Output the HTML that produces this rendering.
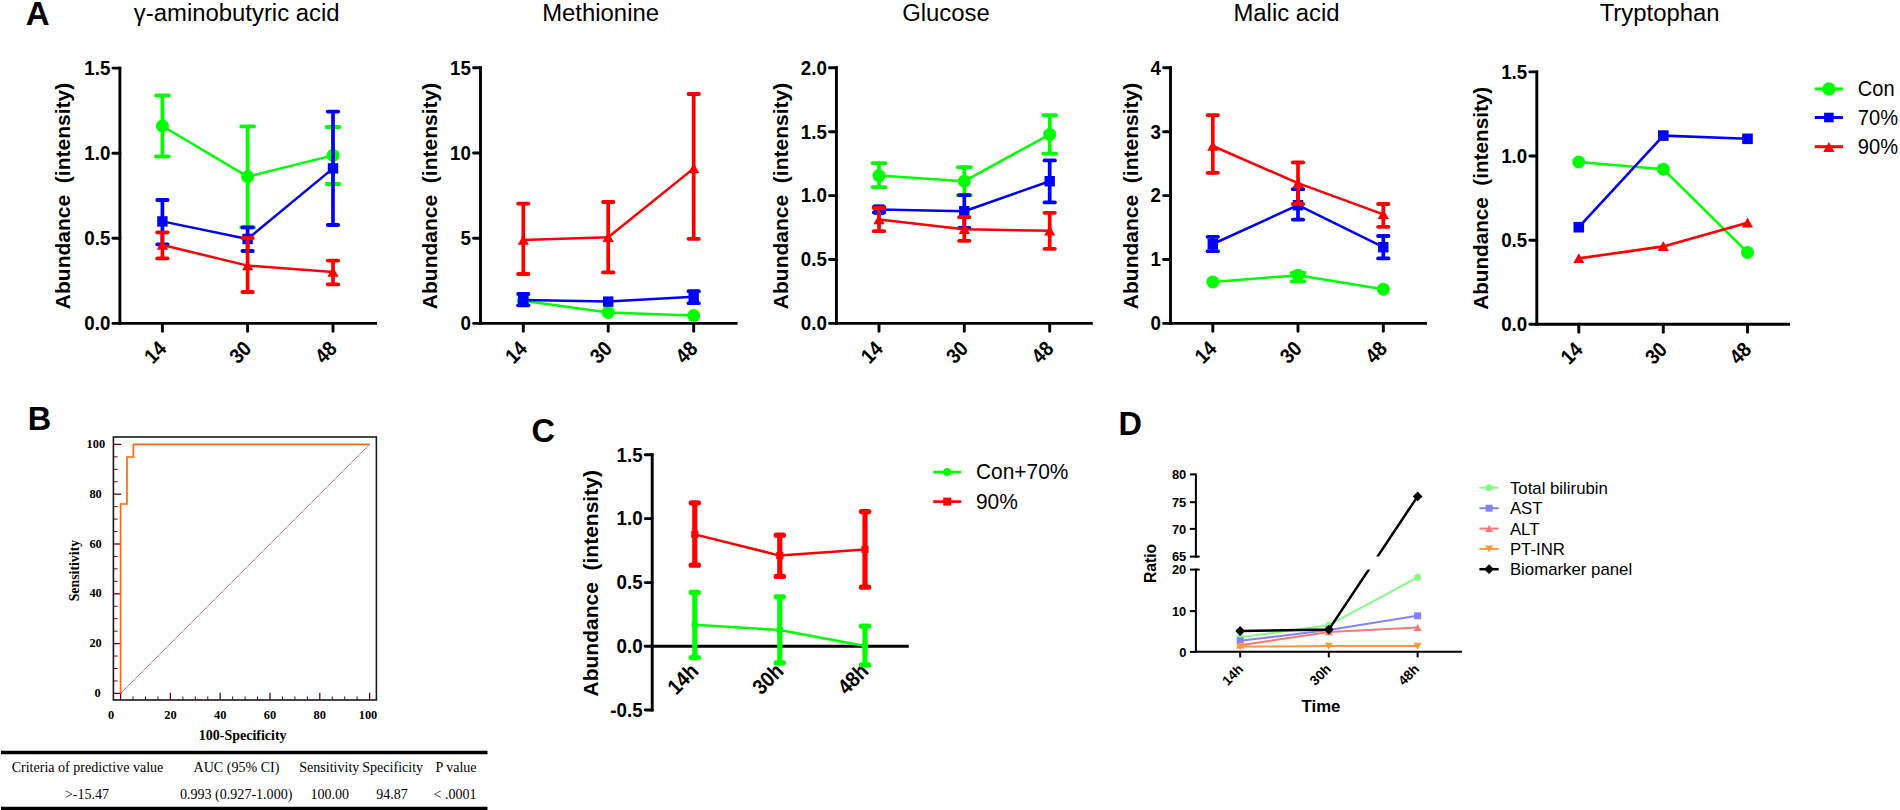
<!DOCTYPE html>
<html lang="en">
<head>
<meta charset="utf-8">
<title>Figure</title>
<style>
html,body{margin:0;padding:0;background:#fff;}
body{width:1900px;height:810px;overflow:hidden;}
svg{display:block;}
text.s{font-family:'Liberation Sans', sans-serif;fill:#000;}
text.t{font-family:'Liberation Serif', serif;fill:#000;}
</style>
</head>
<body>
<svg width="1900" height="810" viewBox="0 0 1900 810">
<rect x="0" y="0" width="1900" height="810" fill="#ffffff"/>
<text class="s" x="25.8" y="25.4" font-size="33" font-weight="bold" text-anchor="start">A</text>
<text class="s" x="27.8" y="430" font-size="32.5" font-weight="bold" text-anchor="start">B</text>
<text class="s" x="531.5" y="442" font-size="32.5" font-weight="bold" text-anchor="start">C</text>
<text class="s" x="1118.5" y="435.2" font-size="32.5" font-weight="bold" text-anchor="start">D</text>
<line x1="119.9" y1="66.65" x2="119.9" y2="324.85" stroke="#000" stroke-width="2.9" stroke-linecap="butt"/>
<line x1="118.45" y1="323.4" x2="377" y2="323.4" stroke="#000" stroke-width="2.9" stroke-linecap="butt"/>
<line x1="112.95" y1="68.1" x2="119.9" y2="68.1" stroke="#000" stroke-width="2.9" stroke-linecap="round"/>
<text class="s" transform="translate(110.3 74.9) scale(0.9 1)" font-size="20.8" font-weight="bold" text-anchor="end">1.5</text>
<line x1="112.95" y1="153.2" x2="119.9" y2="153.2" stroke="#000" stroke-width="2.9" stroke-linecap="round"/>
<text class="s" transform="translate(110.3 160) scale(0.9 1)" font-size="20.8" font-weight="bold" text-anchor="end">1.0</text>
<line x1="112.95" y1="238.3" x2="119.9" y2="238.3" stroke="#000" stroke-width="2.9" stroke-linecap="round"/>
<text class="s" transform="translate(110.3 245.1) scale(0.9 1)" font-size="20.8" font-weight="bold" text-anchor="end">0.5</text>
<line x1="112.95" y1="323.4" x2="119.9" y2="323.4" stroke="#000" stroke-width="2.9" stroke-linecap="round"/>
<text class="s" transform="translate(110.3 330.2) scale(0.9 1)" font-size="20.8" font-weight="bold" text-anchor="end">0.0</text>
<line x1="162.4" y1="323.4" x2="162.4" y2="331.35" stroke="#000" stroke-width="2.9" stroke-linecap="round"/>
<text class="s" transform="translate(167.5 350) rotate(-45) scale(0.9 1)" font-size="20.8" font-weight="bold" text-anchor="end">14</text>
<line x1="247.6" y1="323.4" x2="247.6" y2="331.35" stroke="#000" stroke-width="2.9" stroke-linecap="round"/>
<text class="s" transform="translate(252.7 350) rotate(-45) scale(0.9 1)" font-size="20.8" font-weight="bold" text-anchor="end">30</text>
<line x1="333" y1="323.4" x2="333" y2="331.35" stroke="#000" stroke-width="2.9" stroke-linecap="round"/>
<text class="s" transform="translate(338.1 350) rotate(-45) scale(0.9 1)" font-size="20.8" font-weight="bold" text-anchor="end">48</text>
<text class="s" transform="translate(70.2 196) rotate(-90) scale(1.0 1)" font-size="21" font-weight="bold" text-anchor="middle">Abundance  (intensity)</text>
<text class="s" transform="translate(236.7 20.7) scale(0.975 1)" font-size="24.5" font-weight="normal" text-anchor="middle">γ-aminobutyric acid</text>
<line x1="162.4" y1="95.4" x2="162.4" y2="156.4" stroke="#00ff00" stroke-width="3.7" stroke-linecap="butt"/>
<line x1="156" y1="95.4" x2="168.8" y2="95.4" stroke="#00ff00" stroke-width="3.8" stroke-linecap="round"/>
<line x1="156" y1="156.4" x2="168.8" y2="156.4" stroke="#00ff00" stroke-width="3.8" stroke-linecap="round"/>
<line x1="247.6" y1="126.4" x2="247.6" y2="227.4" stroke="#00ff00" stroke-width="3.7" stroke-linecap="butt"/>
<line x1="241.2" y1="126.4" x2="254" y2="126.4" stroke="#00ff00" stroke-width="3.8" stroke-linecap="round"/>
<line x1="241.2" y1="227.4" x2="254" y2="227.4" stroke="#00ff00" stroke-width="3.8" stroke-linecap="round"/>
<line x1="333" y1="127" x2="333" y2="184" stroke="#00ff00" stroke-width="3.7" stroke-linecap="butt"/>
<line x1="326.6" y1="127" x2="339.4" y2="127" stroke="#00ff00" stroke-width="3.8" stroke-linecap="round"/>
<line x1="326.6" y1="184" x2="339.4" y2="184" stroke="#00ff00" stroke-width="3.8" stroke-linecap="round"/>
<path d="M162.4 126L247.6 176.6L333 155.4" fill="none" stroke="#00ff00" stroke-width="2.5" stroke-linejoin="round"/>
<circle cx="162.4" cy="126" r="6.5" fill="#00ff00"/>
<circle cx="247.6" cy="176.6" r="6.5" fill="#00ff00"/>
<circle cx="333" cy="155.4" r="6.5" fill="#00ff00"/>
<line x1="162.4" y1="200" x2="162.4" y2="244.4" stroke="#0000ff" stroke-width="3.7" stroke-linecap="butt"/>
<line x1="157.2" y1="200" x2="167.6" y2="200" stroke="#0000ff" stroke-width="3.8" stroke-linecap="round"/>
<line x1="157.2" y1="244.4" x2="167.6" y2="244.4" stroke="#0000ff" stroke-width="3.8" stroke-linecap="round"/>
<line x1="247.6" y1="227.4" x2="247.6" y2="251" stroke="#0000ff" stroke-width="3.7" stroke-linecap="butt"/>
<line x1="242.4" y1="227.4" x2="252.8" y2="227.4" stroke="#0000ff" stroke-width="3.8" stroke-linecap="round"/>
<line x1="242.4" y1="251" x2="252.8" y2="251" stroke="#0000ff" stroke-width="3.8" stroke-linecap="round"/>
<line x1="333" y1="111.6" x2="333" y2="225" stroke="#0000ff" stroke-width="3.7" stroke-linecap="butt"/>
<line x1="327.8" y1="111.6" x2="338.2" y2="111.6" stroke="#0000ff" stroke-width="3.8" stroke-linecap="round"/>
<line x1="327.8" y1="225" x2="338.2" y2="225" stroke="#0000ff" stroke-width="3.8" stroke-linecap="round"/>
<path d="M162.4 221.4L247.6 239L333 168.4" fill="none" stroke="#0000ff" stroke-width="2.5" stroke-linejoin="round"/>
<rect x="157.2" y="216.2" width="10.4" height="10.4" fill="#0000ff"/>
<rect x="242.4" y="233.8" width="10.4" height="10.4" fill="#0000ff"/>
<rect x="327.8" y="163.2" width="10.4" height="10.4" fill="#0000ff"/>
<line x1="162.4" y1="232.4" x2="162.4" y2="258.4" stroke="#ff0000" stroke-width="3.7" stroke-linecap="butt"/>
<line x1="157.2" y1="232.4" x2="167.6" y2="232.4" stroke="#ff0000" stroke-width="3.8" stroke-linecap="round"/>
<line x1="157.2" y1="258.4" x2="167.6" y2="258.4" stroke="#ff0000" stroke-width="3.8" stroke-linecap="round"/>
<line x1="247.6" y1="238" x2="247.6" y2="292" stroke="#ff0000" stroke-width="3.7" stroke-linecap="butt"/>
<line x1="242.4" y1="238" x2="252.8" y2="238" stroke="#ff0000" stroke-width="3.8" stroke-linecap="round"/>
<line x1="242.4" y1="292" x2="252.8" y2="292" stroke="#ff0000" stroke-width="3.8" stroke-linecap="round"/>
<line x1="333" y1="260.6" x2="333" y2="284.4" stroke="#ff0000" stroke-width="3.7" stroke-linecap="butt"/>
<line x1="327.8" y1="260.6" x2="338.2" y2="260.6" stroke="#ff0000" stroke-width="3.8" stroke-linecap="round"/>
<line x1="327.8" y1="284.4" x2="338.2" y2="284.4" stroke="#ff0000" stroke-width="3.8" stroke-linecap="round"/>
<path d="M162.4 245L247.6 265.6L333 272" fill="none" stroke="#ff0000" stroke-width="2.5" stroke-linejoin="round"/>
<path d="M162.4 239.8L168.02 249.68L156.78 249.68Z" fill="#ff0000"/>
<path d="M247.6 260.4L253.22 270.28L241.98 270.28Z" fill="#ff0000"/>
<path d="M333 266.8L338.62 276.68L327.38 276.68Z" fill="#ff0000"/>
<line x1="480.5" y1="66.35" x2="480.5" y2="324.85" stroke="#000" stroke-width="2.9" stroke-linecap="butt"/>
<line x1="479.05" y1="323.4" x2="737.6" y2="323.4" stroke="#000" stroke-width="2.9" stroke-linecap="butt"/>
<line x1="473.55" y1="67.8" x2="480.5" y2="67.8" stroke="#000" stroke-width="2.9" stroke-linecap="round"/>
<text class="s" transform="translate(470.9 74.6) scale(0.9 1)" font-size="20.8" font-weight="bold" text-anchor="end">15</text>
<line x1="473.55" y1="153" x2="480.5" y2="153" stroke="#000" stroke-width="2.9" stroke-linecap="round"/>
<text class="s" transform="translate(470.9 159.8) scale(0.9 1)" font-size="20.8" font-weight="bold" text-anchor="end">10</text>
<line x1="473.55" y1="238.2" x2="480.5" y2="238.2" stroke="#000" stroke-width="2.9" stroke-linecap="round"/>
<text class="s" transform="translate(470.9 245) scale(0.9 1)" font-size="20.8" font-weight="bold" text-anchor="end">5</text>
<line x1="473.55" y1="323.4" x2="480.5" y2="323.4" stroke="#000" stroke-width="2.9" stroke-linecap="round"/>
<text class="s" transform="translate(470.9 330.2) scale(0.9 1)" font-size="20.8" font-weight="bold" text-anchor="end">0</text>
<line x1="523.3" y1="323.4" x2="523.3" y2="331.35" stroke="#000" stroke-width="2.9" stroke-linecap="round"/>
<text class="s" transform="translate(528.4 350) rotate(-45) scale(0.9 1)" font-size="20.8" font-weight="bold" text-anchor="end">14</text>
<line x1="608.2" y1="323.4" x2="608.2" y2="331.35" stroke="#000" stroke-width="2.9" stroke-linecap="round"/>
<text class="s" transform="translate(613.3 350) rotate(-45) scale(0.9 1)" font-size="20.8" font-weight="bold" text-anchor="end">30</text>
<line x1="693.7" y1="323.4" x2="693.7" y2="331.35" stroke="#000" stroke-width="2.9" stroke-linecap="round"/>
<text class="s" transform="translate(698.8 350) rotate(-45) scale(0.9 1)" font-size="20.8" font-weight="bold" text-anchor="end">48</text>
<text class="s" transform="translate(437.1 196) rotate(-90) scale(1.0 1)" font-size="21" font-weight="bold" text-anchor="middle">Abundance  (intensity)</text>
<text class="s" transform="translate(600.6 20.7) scale(0.975 1)" font-size="24.5" font-weight="normal" text-anchor="middle">Methionine</text>
<path d="M523.3 300.8L608.2 312.4L693.7 315.6" fill="none" stroke="#00ff00" stroke-width="2.5" stroke-linejoin="round"/>
<circle cx="523.3" cy="300.8" r="6.5" fill="#00ff00"/>
<circle cx="608.2" cy="312.4" r="6.5" fill="#00ff00"/>
<circle cx="693.7" cy="315.6" r="6.5" fill="#00ff00"/>
<line x1="523.3" y1="294" x2="523.3" y2="305.3" stroke="#0000ff" stroke-width="3.7" stroke-linecap="butt"/>
<line x1="518.1" y1="294" x2="528.5" y2="294" stroke="#0000ff" stroke-width="3.8" stroke-linecap="round"/>
<line x1="518.1" y1="305.3" x2="528.5" y2="305.3" stroke="#0000ff" stroke-width="3.8" stroke-linecap="round"/>
<line x1="693.7" y1="291.2" x2="693.7" y2="303.2" stroke="#0000ff" stroke-width="3.7" stroke-linecap="butt"/>
<line x1="688.5" y1="291.2" x2="698.9" y2="291.2" stroke="#0000ff" stroke-width="3.8" stroke-linecap="round"/>
<line x1="688.5" y1="303.2" x2="698.9" y2="303.2" stroke="#0000ff" stroke-width="3.8" stroke-linecap="round"/>
<path d="M523.3 300L608.2 301.6L693.7 296.8" fill="none" stroke="#0000ff" stroke-width="2.5" stroke-linejoin="round"/>
<rect x="518.1" y="294.8" width="10.4" height="10.4" fill="#0000ff"/>
<rect x="603" y="296.4" width="10.4" height="10.4" fill="#0000ff"/>
<rect x="688.5" y="291.6" width="10.4" height="10.4" fill="#0000ff"/>
<line x1="523.3" y1="203.6" x2="523.3" y2="274" stroke="#ff0000" stroke-width="3.7" stroke-linecap="butt"/>
<line x1="518.1" y1="203.6" x2="528.5" y2="203.6" stroke="#ff0000" stroke-width="3.8" stroke-linecap="round"/>
<line x1="518.1" y1="274" x2="528.5" y2="274" stroke="#ff0000" stroke-width="3.8" stroke-linecap="round"/>
<line x1="608.2" y1="202" x2="608.2" y2="272.4" stroke="#ff0000" stroke-width="3.7" stroke-linecap="butt"/>
<line x1="603" y1="202" x2="613.4" y2="202" stroke="#ff0000" stroke-width="3.8" stroke-linecap="round"/>
<line x1="603" y1="272.4" x2="613.4" y2="272.4" stroke="#ff0000" stroke-width="3.8" stroke-linecap="round"/>
<line x1="693.7" y1="94" x2="693.7" y2="238.8" stroke="#ff0000" stroke-width="3.7" stroke-linecap="butt"/>
<line x1="688.5" y1="94" x2="698.9" y2="94" stroke="#ff0000" stroke-width="3.8" stroke-linecap="round"/>
<line x1="688.5" y1="238.8" x2="698.9" y2="238.8" stroke="#ff0000" stroke-width="3.8" stroke-linecap="round"/>
<path d="M523.3 240L608.2 237.2L693.7 168.4" fill="none" stroke="#ff0000" stroke-width="2.5" stroke-linejoin="round"/>
<path d="M523.3 234.8L528.92 244.68L517.68 244.68Z" fill="#ff0000"/>
<path d="M608.2 232L613.82 241.88L602.58 241.88Z" fill="#ff0000"/>
<path d="M693.7 163.2L699.32 173.08L688.08 173.08Z" fill="#ff0000"/>
<line x1="836.4" y1="66.35" x2="836.4" y2="324.85" stroke="#000" stroke-width="2.9" stroke-linecap="butt"/>
<line x1="834.95" y1="323.4" x2="1092.8" y2="323.4" stroke="#000" stroke-width="2.9" stroke-linecap="butt"/>
<line x1="829.45" y1="67.8" x2="836.4" y2="67.8" stroke="#000" stroke-width="2.9" stroke-linecap="round"/>
<text class="s" transform="translate(826.8 74.6) scale(0.9 1)" font-size="20.8" font-weight="bold" text-anchor="end">2.0</text>
<line x1="829.45" y1="131.7" x2="836.4" y2="131.7" stroke="#000" stroke-width="2.9" stroke-linecap="round"/>
<text class="s" transform="translate(826.8 138.5) scale(0.9 1)" font-size="20.8" font-weight="bold" text-anchor="end">1.5</text>
<line x1="829.45" y1="195.6" x2="836.4" y2="195.6" stroke="#000" stroke-width="2.9" stroke-linecap="round"/>
<text class="s" transform="translate(826.8 202.4) scale(0.9 1)" font-size="20.8" font-weight="bold" text-anchor="end">1.0</text>
<line x1="829.45" y1="259.5" x2="836.4" y2="259.5" stroke="#000" stroke-width="2.9" stroke-linecap="round"/>
<text class="s" transform="translate(826.8 266.3) scale(0.9 1)" font-size="20.8" font-weight="bold" text-anchor="end">0.5</text>
<line x1="829.45" y1="323.4" x2="836.4" y2="323.4" stroke="#000" stroke-width="2.9" stroke-linecap="round"/>
<text class="s" transform="translate(826.8 330.2) scale(0.9 1)" font-size="20.8" font-weight="bold" text-anchor="end">0.0</text>
<line x1="879" y1="323.4" x2="879" y2="331.35" stroke="#000" stroke-width="2.9" stroke-linecap="round"/>
<text class="s" transform="translate(884.1 350) rotate(-45) scale(0.9 1)" font-size="20.8" font-weight="bold" text-anchor="end">14</text>
<line x1="964.3" y1="323.4" x2="964.3" y2="331.35" stroke="#000" stroke-width="2.9" stroke-linecap="round"/>
<text class="s" transform="translate(969.4 350) rotate(-45) scale(0.9 1)" font-size="20.8" font-weight="bold" text-anchor="end">30</text>
<line x1="1049.7" y1="323.4" x2="1049.7" y2="331.35" stroke="#000" stroke-width="2.9" stroke-linecap="round"/>
<text class="s" transform="translate(1054.8 350) rotate(-45) scale(0.9 1)" font-size="20.8" font-weight="bold" text-anchor="end">48</text>
<text class="s" transform="translate(788.2 196) rotate(-90) scale(1.0 1)" font-size="21" font-weight="bold" text-anchor="middle">Abundance  (intensity)</text>
<text class="s" transform="translate(946 20.7) scale(0.975 1)" font-size="24.5" font-weight="normal" text-anchor="middle">Glucose</text>
<line x1="879" y1="163.2" x2="879" y2="187.2" stroke="#00ff00" stroke-width="3.7" stroke-linecap="butt"/>
<line x1="872.6" y1="163.2" x2="885.4" y2="163.2" stroke="#00ff00" stroke-width="3.8" stroke-linecap="round"/>
<line x1="872.6" y1="187.2" x2="885.4" y2="187.2" stroke="#00ff00" stroke-width="3.8" stroke-linecap="round"/>
<line x1="964.3" y1="167.2" x2="964.3" y2="195.2" stroke="#00ff00" stroke-width="3.7" stroke-linecap="butt"/>
<line x1="957.9" y1="167.2" x2="970.7" y2="167.2" stroke="#00ff00" stroke-width="3.8" stroke-linecap="round"/>
<line x1="957.9" y1="195.2" x2="970.7" y2="195.2" stroke="#00ff00" stroke-width="3.8" stroke-linecap="round"/>
<line x1="1049.7" y1="115.2" x2="1049.7" y2="153.6" stroke="#00ff00" stroke-width="3.7" stroke-linecap="butt"/>
<line x1="1043.3" y1="115.2" x2="1056.1" y2="115.2" stroke="#00ff00" stroke-width="3.8" stroke-linecap="round"/>
<line x1="1043.3" y1="153.6" x2="1056.1" y2="153.6" stroke="#00ff00" stroke-width="3.8" stroke-linecap="round"/>
<path d="M879 175.6L964.3 181.2L1049.7 134.4" fill="none" stroke="#00ff00" stroke-width="2.5" stroke-linejoin="round"/>
<circle cx="879" cy="175.6" r="6.5" fill="#00ff00"/>
<circle cx="964.3" cy="181.2" r="6.5" fill="#00ff00"/>
<circle cx="1049.7" cy="134.4" r="6.5" fill="#00ff00"/>
<line x1="879" y1="206.8" x2="879" y2="212.4" stroke="#0000ff" stroke-width="3.7" stroke-linecap="butt"/>
<line x1="873.8" y1="206.8" x2="884.2" y2="206.8" stroke="#0000ff" stroke-width="3.8" stroke-linecap="round"/>
<line x1="873.8" y1="212.4" x2="884.2" y2="212.4" stroke="#0000ff" stroke-width="3.8" stroke-linecap="round"/>
<line x1="964.3" y1="195.2" x2="964.3" y2="228" stroke="#0000ff" stroke-width="3.7" stroke-linecap="butt"/>
<line x1="959.1" y1="195.2" x2="969.5" y2="195.2" stroke="#0000ff" stroke-width="3.8" stroke-linecap="round"/>
<line x1="959.1" y1="228" x2="969.5" y2="228" stroke="#0000ff" stroke-width="3.8" stroke-linecap="round"/>
<line x1="1049.7" y1="160.4" x2="1049.7" y2="202.4" stroke="#0000ff" stroke-width="3.7" stroke-linecap="butt"/>
<line x1="1044.5" y1="160.4" x2="1054.9" y2="160.4" stroke="#0000ff" stroke-width="3.8" stroke-linecap="round"/>
<line x1="1044.5" y1="202.4" x2="1054.9" y2="202.4" stroke="#0000ff" stroke-width="3.8" stroke-linecap="round"/>
<path d="M879 209.6L964.3 211.2L1049.7 181.2" fill="none" stroke="#0000ff" stroke-width="2.5" stroke-linejoin="round"/>
<rect x="873.8" y="204.4" width="10.4" height="10.4" fill="#0000ff"/>
<rect x="959.1" y="206" width="10.4" height="10.4" fill="#0000ff"/>
<rect x="1044.5" y="176" width="10.4" height="10.4" fill="#0000ff"/>
<line x1="879" y1="208" x2="879" y2="231.2" stroke="#ff0000" stroke-width="3.7" stroke-linecap="butt"/>
<line x1="873.8" y1="208" x2="884.2" y2="208" stroke="#ff0000" stroke-width="3.8" stroke-linecap="round"/>
<line x1="873.8" y1="231.2" x2="884.2" y2="231.2" stroke="#ff0000" stroke-width="3.8" stroke-linecap="round"/>
<line x1="964.3" y1="217.2" x2="964.3" y2="240.8" stroke="#ff0000" stroke-width="3.7" stroke-linecap="butt"/>
<line x1="959.1" y1="217.2" x2="969.5" y2="217.2" stroke="#ff0000" stroke-width="3.8" stroke-linecap="round"/>
<line x1="959.1" y1="240.8" x2="969.5" y2="240.8" stroke="#ff0000" stroke-width="3.8" stroke-linecap="round"/>
<line x1="1049.7" y1="212.8" x2="1049.7" y2="248.8" stroke="#ff0000" stroke-width="3.7" stroke-linecap="butt"/>
<line x1="1044.5" y1="212.8" x2="1054.9" y2="212.8" stroke="#ff0000" stroke-width="3.8" stroke-linecap="round"/>
<line x1="1044.5" y1="248.8" x2="1054.9" y2="248.8" stroke="#ff0000" stroke-width="3.8" stroke-linecap="round"/>
<path d="M879 219.6L964.3 229.2L1049.7 230.8" fill="none" stroke="#ff0000" stroke-width="2.5" stroke-linejoin="round"/>
<path d="M879 214.4L884.62 224.28L873.38 224.28Z" fill="#ff0000"/>
<path d="M964.3 224L969.92 233.88L958.68 233.88Z" fill="#ff0000"/>
<path d="M1049.7 225.6L1055.32 235.48L1044.08 235.48Z" fill="#ff0000"/>
<line x1="1170.5" y1="66.35" x2="1170.5" y2="324.85" stroke="#000" stroke-width="2.9" stroke-linecap="butt"/>
<line x1="1169.05" y1="323.4" x2="1427" y2="323.4" stroke="#000" stroke-width="2.9" stroke-linecap="butt"/>
<line x1="1163.55" y1="67.8" x2="1170.5" y2="67.8" stroke="#000" stroke-width="2.9" stroke-linecap="round"/>
<text class="s" transform="translate(1160.9 74.6) scale(0.9 1)" font-size="20.8" font-weight="bold" text-anchor="end">4</text>
<line x1="1163.55" y1="131.7" x2="1170.5" y2="131.7" stroke="#000" stroke-width="2.9" stroke-linecap="round"/>
<text class="s" transform="translate(1160.9 138.5) scale(0.9 1)" font-size="20.8" font-weight="bold" text-anchor="end">3</text>
<line x1="1163.55" y1="195.6" x2="1170.5" y2="195.6" stroke="#000" stroke-width="2.9" stroke-linecap="round"/>
<text class="s" transform="translate(1160.9 202.4) scale(0.9 1)" font-size="20.8" font-weight="bold" text-anchor="end">2</text>
<line x1="1163.55" y1="259.5" x2="1170.5" y2="259.5" stroke="#000" stroke-width="2.9" stroke-linecap="round"/>
<text class="s" transform="translate(1160.9 266.3) scale(0.9 1)" font-size="20.8" font-weight="bold" text-anchor="end">1</text>
<line x1="1163.55" y1="323.4" x2="1170.5" y2="323.4" stroke="#000" stroke-width="2.9" stroke-linecap="round"/>
<text class="s" transform="translate(1160.9 330.2) scale(0.9 1)" font-size="20.8" font-weight="bold" text-anchor="end">0</text>
<line x1="1212.8" y1="323.4" x2="1212.8" y2="331.35" stroke="#000" stroke-width="2.9" stroke-linecap="round"/>
<text class="s" transform="translate(1217.9 350) rotate(-45) scale(0.9 1)" font-size="20.8" font-weight="bold" text-anchor="end">14</text>
<line x1="1298" y1="323.4" x2="1298" y2="331.35" stroke="#000" stroke-width="2.9" stroke-linecap="round"/>
<text class="s" transform="translate(1303.1 350) rotate(-45) scale(0.9 1)" font-size="20.8" font-weight="bold" text-anchor="end">30</text>
<line x1="1383.3" y1="323.4" x2="1383.3" y2="331.35" stroke="#000" stroke-width="2.9" stroke-linecap="round"/>
<text class="s" transform="translate(1388.4 350) rotate(-45) scale(0.9 1)" font-size="20.8" font-weight="bold" text-anchor="end">48</text>
<text class="s" transform="translate(1138.1 196) rotate(-90) scale(1.0 1)" font-size="21" font-weight="bold" text-anchor="middle">Abundance  (intensity)</text>
<text class="s" transform="translate(1286.5 20.7) scale(0.975 1)" font-size="24.5" font-weight="normal" text-anchor="middle">Malic acid</text>
<line x1="1298" y1="273" x2="1298" y2="281.3" stroke="#00ff00" stroke-width="3.7" stroke-linecap="butt"/>
<line x1="1291.6" y1="273" x2="1304.4" y2="273" stroke="#00ff00" stroke-width="3.8" stroke-linecap="round"/>
<line x1="1291.6" y1="281.3" x2="1304.4" y2="281.3" stroke="#00ff00" stroke-width="3.8" stroke-linecap="round"/>
<path d="M1212.8 282L1298 275.2L1383.3 289.2" fill="none" stroke="#00ff00" stroke-width="2.5" stroke-linejoin="round"/>
<circle cx="1212.8" cy="282" r="6.5" fill="#00ff00"/>
<circle cx="1298" cy="275.2" r="6.5" fill="#00ff00"/>
<circle cx="1383.3" cy="289.2" r="6.5" fill="#00ff00"/>
<line x1="1212.8" y1="236.8" x2="1212.8" y2="251.2" stroke="#0000ff" stroke-width="3.7" stroke-linecap="butt"/>
<line x1="1207.6" y1="236.8" x2="1218" y2="236.8" stroke="#0000ff" stroke-width="3.8" stroke-linecap="round"/>
<line x1="1207.6" y1="251.2" x2="1218" y2="251.2" stroke="#0000ff" stroke-width="3.8" stroke-linecap="round"/>
<line x1="1298" y1="189.2" x2="1298" y2="219.6" stroke="#0000ff" stroke-width="3.7" stroke-linecap="butt"/>
<line x1="1292.8" y1="189.2" x2="1303.2" y2="189.2" stroke="#0000ff" stroke-width="3.8" stroke-linecap="round"/>
<line x1="1292.8" y1="219.6" x2="1303.2" y2="219.6" stroke="#0000ff" stroke-width="3.8" stroke-linecap="round"/>
<line x1="1383.3" y1="236" x2="1383.3" y2="258.4" stroke="#0000ff" stroke-width="3.7" stroke-linecap="butt"/>
<line x1="1378.1" y1="236" x2="1388.5" y2="236" stroke="#0000ff" stroke-width="3.8" stroke-linecap="round"/>
<line x1="1378.1" y1="258.4" x2="1388.5" y2="258.4" stroke="#0000ff" stroke-width="3.8" stroke-linecap="round"/>
<path d="M1212.8 244L1298 205.2L1383.3 247.2" fill="none" stroke="#0000ff" stroke-width="2.5" stroke-linejoin="round"/>
<rect x="1207.6" y="238.8" width="10.4" height="10.4" fill="#0000ff"/>
<rect x="1292.8" y="200" width="10.4" height="10.4" fill="#0000ff"/>
<rect x="1378.1" y="242" width="10.4" height="10.4" fill="#0000ff"/>
<line x1="1212.8" y1="115.2" x2="1212.8" y2="172.8" stroke="#ff0000" stroke-width="3.7" stroke-linecap="butt"/>
<line x1="1207.6" y1="115.2" x2="1218" y2="115.2" stroke="#ff0000" stroke-width="3.8" stroke-linecap="round"/>
<line x1="1207.6" y1="172.8" x2="1218" y2="172.8" stroke="#ff0000" stroke-width="3.8" stroke-linecap="round"/>
<line x1="1298" y1="162.4" x2="1298" y2="204" stroke="#ff0000" stroke-width="3.7" stroke-linecap="butt"/>
<line x1="1292.8" y1="162.4" x2="1303.2" y2="162.4" stroke="#ff0000" stroke-width="3.8" stroke-linecap="round"/>
<line x1="1292.8" y1="204" x2="1303.2" y2="204" stroke="#ff0000" stroke-width="3.8" stroke-linecap="round"/>
<line x1="1383.3" y1="204" x2="1383.3" y2="226.8" stroke="#ff0000" stroke-width="3.7" stroke-linecap="butt"/>
<line x1="1378.1" y1="204" x2="1388.5" y2="204" stroke="#ff0000" stroke-width="3.8" stroke-linecap="round"/>
<line x1="1378.1" y1="226.8" x2="1388.5" y2="226.8" stroke="#ff0000" stroke-width="3.8" stroke-linecap="round"/>
<path d="M1212.8 146L1298 183.2L1383.3 214.4" fill="none" stroke="#ff0000" stroke-width="2.5" stroke-linejoin="round"/>
<path d="M1212.8 140.8L1218.42 150.68L1207.18 150.68Z" fill="#ff0000"/>
<path d="M1298 178L1303.62 187.88L1292.38 187.88Z" fill="#ff0000"/>
<path d="M1383.3 209.2L1388.92 219.08L1377.68 219.08Z" fill="#ff0000"/>
<line x1="1536.8" y1="70.45" x2="1536.8" y2="325.75" stroke="#000" stroke-width="2.9" stroke-linecap="butt"/>
<line x1="1535.35" y1="324.3" x2="1790" y2="324.3" stroke="#000" stroke-width="2.9" stroke-linecap="butt"/>
<line x1="1529.85" y1="71.9" x2="1536.8" y2="71.9" stroke="#000" stroke-width="2.9" stroke-linecap="round"/>
<text class="s" transform="translate(1527.2 78.7) scale(0.9 1)" font-size="20.8" font-weight="bold" text-anchor="end">1.5</text>
<line x1="1529.85" y1="156" x2="1536.8" y2="156" stroke="#000" stroke-width="2.9" stroke-linecap="round"/>
<text class="s" transform="translate(1527.2 162.8) scale(0.9 1)" font-size="20.8" font-weight="bold" text-anchor="end">1.0</text>
<line x1="1529.85" y1="240.2" x2="1536.8" y2="240.2" stroke="#000" stroke-width="2.9" stroke-linecap="round"/>
<text class="s" transform="translate(1527.2 247) scale(0.9 1)" font-size="20.8" font-weight="bold" text-anchor="end">0.5</text>
<line x1="1529.85" y1="324.3" x2="1536.8" y2="324.3" stroke="#000" stroke-width="2.9" stroke-linecap="round"/>
<text class="s" transform="translate(1527.2 331.1) scale(0.9 1)" font-size="20.8" font-weight="bold" text-anchor="end">0.0</text>
<line x1="1578.8" y1="324.3" x2="1578.8" y2="332.25" stroke="#000" stroke-width="2.9" stroke-linecap="round"/>
<text class="s" transform="translate(1583.9 350.9) rotate(-45) scale(0.9 1)" font-size="20.8" font-weight="bold" text-anchor="end">14</text>
<line x1="1663.3" y1="324.3" x2="1663.3" y2="332.25" stroke="#000" stroke-width="2.9" stroke-linecap="round"/>
<text class="s" transform="translate(1668.4 350.9) rotate(-45) scale(0.9 1)" font-size="20.8" font-weight="bold" text-anchor="end">30</text>
<line x1="1747.5" y1="324.3" x2="1747.5" y2="332.25" stroke="#000" stroke-width="2.9" stroke-linecap="round"/>
<text class="s" transform="translate(1752.6 350.9) rotate(-45) scale(0.9 1)" font-size="20.8" font-weight="bold" text-anchor="end">48</text>
<text class="s" transform="translate(1488.2 198.3) rotate(-90) scale(1.0 1)" font-size="20.7" font-weight="bold" text-anchor="middle">Abundance  (intensity)</text>
<text class="s" transform="translate(1659.6 20.7) scale(0.975 1)" font-size="24.5" font-weight="normal" text-anchor="middle">Tryptophan</text>
<path d="M1578.8 162L1663.3 169.2L1747.5 252.4" fill="none" stroke="#00ff00" stroke-width="2.6" stroke-linejoin="round"/>
<circle cx="1578.8" cy="162" r="6.5" fill="#00ff00"/>
<circle cx="1663.3" cy="169.2" r="6.5" fill="#00ff00"/>
<circle cx="1747.5" cy="252.4" r="6.5" fill="#00ff00"/>
<path d="M1578.8 227.2L1663.3 135.6L1747.5 138.8" fill="none" stroke="#0000ff" stroke-width="2.6" stroke-linejoin="round"/>
<rect x="1573.5" y="221.9" width="10.6" height="10.6" fill="#0000ff"/>
<rect x="1658" y="130.3" width="10.6" height="10.6" fill="#0000ff"/>
<rect x="1742.2" y="133.5" width="10.6" height="10.6" fill="#0000ff"/>
<path d="M1578.8 258.4L1663.3 246.4L1747.5 222.8" fill="none" stroke="#ff0000" stroke-width="2.6" stroke-linejoin="round"/>
<path d="M1578.8 253.2L1584.42 263.08L1573.18 263.08Z" fill="#ff0000"/>
<path d="M1663.3 241.2L1668.92 251.08L1657.68 251.08Z" fill="#ff0000"/>
<path d="M1747.5 217.6L1753.12 227.48L1741.88 227.48Z" fill="#ff0000"/>
<line x1="1814.8" y1="88.9" x2="1843" y2="88.9" stroke="#00ff00" stroke-width="3" stroke-linecap="butt"/>
<circle cx="1828.9" cy="88.9" r="6.7" fill="#00ff00"/>
<text class="s" transform="translate(1857.8 95.6) scale(0.93 1)" font-size="21.6" font-weight="normal" text-anchor="start">Con</text>
<line x1="1814.8" y1="117.5" x2="1843" y2="117.5" stroke="#0000ff" stroke-width="3" stroke-linecap="butt"/>
<rect x="1824.1" y="112.7" width="9.6" height="9.6" fill="#0000ff"/>
<text class="s" transform="translate(1857.8 124.7) scale(0.93 1)" font-size="21.6" font-weight="normal" text-anchor="start">70%</text>
<line x1="1814.8" y1="146.7" x2="1843" y2="146.7" stroke="#ff0000" stroke-width="3" stroke-linecap="butt"/>
<path d="M1828.9 142L1834.52 151.88L1823.28 151.88Z" fill="#ff0000"/>
<text class="s" transform="translate(1857.8 153.6) scale(0.93 1)" font-size="21.6" font-weight="normal" text-anchor="start">90%</text>
<rect x="113.4" y="437" width="263" height="263" fill="none" stroke="#1a1a1a" stroke-width="1.6"/>
<line x1="113.4" y1="693.4" x2="121.2" y2="693.4" stroke="#6e0012" stroke-width="1.3" stroke-linecap="butt"/>
<line x1="120.6" y1="700" x2="120.6" y2="692.8" stroke="#6e0012" stroke-width="1.3" stroke-linecap="butt"/>
<text class="t" x="100.8" y="696.9" font-size="12.4" font-weight="bold" text-anchor="end">0</text>
<text class="t" x="111" y="719.3" font-size="12.4" font-weight="bold" text-anchor="middle">0</text>
<line x1="113.4" y1="680.95" x2="117.6" y2="680.95" stroke="#6e0012" stroke-width="1" stroke-linecap="butt"/>
<line x1="133.05" y1="700" x2="133.05" y2="696.4" stroke="#6e0012" stroke-width="1" stroke-linecap="butt"/>
<line x1="113.4" y1="668.5" x2="117.6" y2="668.5" stroke="#6e0012" stroke-width="1" stroke-linecap="butt"/>
<line x1="145.5" y1="700" x2="145.5" y2="696.4" stroke="#6e0012" stroke-width="1" stroke-linecap="butt"/>
<line x1="113.4" y1="656.05" x2="117.6" y2="656.05" stroke="#6e0012" stroke-width="1" stroke-linecap="butt"/>
<line x1="157.95" y1="700" x2="157.95" y2="696.4" stroke="#6e0012" stroke-width="1" stroke-linecap="butt"/>
<line x1="113.4" y1="643.6" x2="121.2" y2="643.6" stroke="#6e0012" stroke-width="1.3" stroke-linecap="butt"/>
<line x1="170.4" y1="700" x2="170.4" y2="692.8" stroke="#6e0012" stroke-width="1.3" stroke-linecap="butt"/>
<text class="t" x="101.8" y="647.1" font-size="12.4" font-weight="bold" text-anchor="end">20</text>
<text class="t" x="170.4" y="719.3" font-size="12.4" font-weight="bold" text-anchor="middle">20</text>
<line x1="113.4" y1="631.15" x2="117.6" y2="631.15" stroke="#6e0012" stroke-width="1" stroke-linecap="butt"/>
<line x1="182.85" y1="700" x2="182.85" y2="696.4" stroke="#6e0012" stroke-width="1" stroke-linecap="butt"/>
<line x1="113.4" y1="618.7" x2="117.6" y2="618.7" stroke="#6e0012" stroke-width="1" stroke-linecap="butt"/>
<line x1="195.3" y1="700" x2="195.3" y2="696.4" stroke="#6e0012" stroke-width="1" stroke-linecap="butt"/>
<line x1="113.4" y1="606.25" x2="117.6" y2="606.25" stroke="#6e0012" stroke-width="1" stroke-linecap="butt"/>
<line x1="207.75" y1="700" x2="207.75" y2="696.4" stroke="#6e0012" stroke-width="1" stroke-linecap="butt"/>
<line x1="113.4" y1="593.8" x2="121.2" y2="593.8" stroke="#6e0012" stroke-width="1.3" stroke-linecap="butt"/>
<line x1="220.2" y1="700" x2="220.2" y2="692.8" stroke="#6e0012" stroke-width="1.3" stroke-linecap="butt"/>
<text class="t" x="101.8" y="597.3" font-size="12.4" font-weight="bold" text-anchor="end">40</text>
<text class="t" x="220.2" y="719.3" font-size="12.4" font-weight="bold" text-anchor="middle">40</text>
<line x1="113.4" y1="581.35" x2="117.6" y2="581.35" stroke="#6e0012" stroke-width="1" stroke-linecap="butt"/>
<line x1="232.65" y1="700" x2="232.65" y2="696.4" stroke="#6e0012" stroke-width="1" stroke-linecap="butt"/>
<line x1="113.4" y1="568.9" x2="117.6" y2="568.9" stroke="#6e0012" stroke-width="1" stroke-linecap="butt"/>
<line x1="245.1" y1="700" x2="245.1" y2="696.4" stroke="#6e0012" stroke-width="1" stroke-linecap="butt"/>
<line x1="113.4" y1="556.45" x2="117.6" y2="556.45" stroke="#6e0012" stroke-width="1" stroke-linecap="butt"/>
<line x1="257.55" y1="700" x2="257.55" y2="696.4" stroke="#6e0012" stroke-width="1" stroke-linecap="butt"/>
<line x1="113.4" y1="544" x2="121.2" y2="544" stroke="#6e0012" stroke-width="1.3" stroke-linecap="butt"/>
<line x1="270" y1="700" x2="270" y2="692.8" stroke="#6e0012" stroke-width="1.3" stroke-linecap="butt"/>
<text class="t" x="101.8" y="547.5" font-size="12.4" font-weight="bold" text-anchor="end">60</text>
<text class="t" x="270" y="719.3" font-size="12.4" font-weight="bold" text-anchor="middle">60</text>
<line x1="113.4" y1="531.55" x2="117.6" y2="531.55" stroke="#6e0012" stroke-width="1" stroke-linecap="butt"/>
<line x1="282.45" y1="700" x2="282.45" y2="696.4" stroke="#6e0012" stroke-width="1" stroke-linecap="butt"/>
<line x1="113.4" y1="519.1" x2="117.6" y2="519.1" stroke="#6e0012" stroke-width="1" stroke-linecap="butt"/>
<line x1="294.9" y1="700" x2="294.9" y2="696.4" stroke="#6e0012" stroke-width="1" stroke-linecap="butt"/>
<line x1="113.4" y1="506.65" x2="117.6" y2="506.65" stroke="#6e0012" stroke-width="1" stroke-linecap="butt"/>
<line x1="307.35" y1="700" x2="307.35" y2="696.4" stroke="#6e0012" stroke-width="1" stroke-linecap="butt"/>
<line x1="113.4" y1="494.2" x2="121.2" y2="494.2" stroke="#6e0012" stroke-width="1.3" stroke-linecap="butt"/>
<line x1="319.8" y1="700" x2="319.8" y2="692.8" stroke="#6e0012" stroke-width="1.3" stroke-linecap="butt"/>
<text class="t" x="101.8" y="497.7" font-size="12.4" font-weight="bold" text-anchor="end">80</text>
<text class="t" x="319.8" y="719.3" font-size="12.4" font-weight="bold" text-anchor="middle">80</text>
<line x1="113.4" y1="481.75" x2="117.6" y2="481.75" stroke="#6e0012" stroke-width="1" stroke-linecap="butt"/>
<line x1="332.25" y1="700" x2="332.25" y2="696.4" stroke="#6e0012" stroke-width="1" stroke-linecap="butt"/>
<line x1="113.4" y1="469.3" x2="117.6" y2="469.3" stroke="#6e0012" stroke-width="1" stroke-linecap="butt"/>
<line x1="344.7" y1="700" x2="344.7" y2="696.4" stroke="#6e0012" stroke-width="1" stroke-linecap="butt"/>
<line x1="113.4" y1="456.85" x2="117.6" y2="456.85" stroke="#6e0012" stroke-width="1" stroke-linecap="butt"/>
<line x1="357.15" y1="700" x2="357.15" y2="696.4" stroke="#6e0012" stroke-width="1" stroke-linecap="butt"/>
<line x1="113.4" y1="444.4" x2="121.2" y2="444.4" stroke="#6e0012" stroke-width="1.3" stroke-linecap="butt"/>
<line x1="369.6" y1="700" x2="369.6" y2="692.8" stroke="#6e0012" stroke-width="1.3" stroke-linecap="butt"/>
<text class="t" x="105.2" y="447.9" font-size="12.4" font-weight="bold" text-anchor="end">100</text>
<text class="t" x="368" y="719.3" font-size="12.4" font-weight="bold" text-anchor="middle">100</text>
<line x1="120.6" y1="693.4" x2="369.6" y2="444.4" stroke="#b57a78" stroke-width="0.9" stroke-linecap="butt"/>
<path d="M120.6 693.4L120.6 504L127 504L127 457L133.4 457L133.4 444.4L369.6 444.4" fill="none" stroke="#ff6a10" stroke-width="1.7" stroke-linejoin="miter"/>
<text class="t" transform="translate(79 570.6) rotate(-90)" font-size="13.85" font-weight="bold" text-anchor="middle">Sensitivity</text>
<text class="t" x="242.7" y="740.2" font-size="14" font-weight="bold" text-anchor="middle">100-Specificity</text>
<line x1="1" y1="752.5" x2="487.5" y2="752.5" stroke="#000" stroke-width="3.3" stroke-linecap="butt"/>
<line x1="1" y1="808.5" x2="487.5" y2="808.5" stroke="#000" stroke-width="3.3" stroke-linecap="butt"/>
<text class="t" x="87.5" y="771.5" font-size="14.05" font-weight="normal" text-anchor="middle">Criteria of predictive value</text>
<text class="t" x="236.5" y="771.5" font-size="14.05" font-weight="normal" text-anchor="middle">AUC (95% CI)</text>
<text class="t" x="329.3" y="771.5" font-size="14.05" font-weight="normal" text-anchor="middle">Sensitivity</text>
<text class="t" x="392.7" y="771.5" font-size="14.05" font-weight="normal" text-anchor="middle">Specificity</text>
<text class="t" x="456" y="771.5" font-size="14.05" font-weight="normal" text-anchor="middle">P value</text>
<text class="t" x="87" y="799.4" font-size="14.05" font-weight="normal" text-anchor="middle">&gt;-15.47</text>
<text class="t" x="236.2" y="799.4" font-size="14.05" font-weight="normal" text-anchor="middle">0.993 (0.927-1.000)</text>
<text class="t" x="329.8" y="799.4" font-size="14.05" font-weight="normal" text-anchor="middle">100.00</text>
<text class="t" x="392.1" y="799.4" font-size="14.05" font-weight="normal" text-anchor="middle">94.87</text>
<text class="t" x="455" y="799.4" font-size="14.05" font-weight="normal" text-anchor="middle">&lt; .0001</text>
<line x1="652.2" y1="453.35" x2="652.2" y2="711.45" stroke="#000" stroke-width="2.9" stroke-linecap="butt"/>
<line x1="645.25" y1="454.8" x2="652.2" y2="454.8" stroke="#000" stroke-width="2.9" stroke-linecap="round"/>
<text class="s" transform="translate(642.6 461.6) scale(0.9 1)" font-size="20.8" font-weight="bold" text-anchor="end">1.5</text>
<line x1="645.25" y1="518.6" x2="652.2" y2="518.6" stroke="#000" stroke-width="2.9" stroke-linecap="round"/>
<text class="s" transform="translate(642.6 525.4) scale(0.9 1)" font-size="20.8" font-weight="bold" text-anchor="end">1.0</text>
<line x1="645.25" y1="582.6" x2="652.2" y2="582.6" stroke="#000" stroke-width="2.9" stroke-linecap="round"/>
<text class="s" transform="translate(642.6 589.4) scale(0.9 1)" font-size="20.8" font-weight="bold" text-anchor="end">0.5</text>
<line x1="645.25" y1="646.2" x2="652.2" y2="646.2" stroke="#000" stroke-width="2.9" stroke-linecap="round"/>
<text class="s" transform="translate(642.6 653) scale(0.9 1)" font-size="20.8" font-weight="bold" text-anchor="end">0.0</text>
<line x1="645.25" y1="710" x2="652.2" y2="710" stroke="#000" stroke-width="2.9" stroke-linecap="round"/>
<text class="s" transform="translate(642.6 716.8) scale(0.9 1)" font-size="20.8" font-weight="bold" text-anchor="end">-0.5</text>
<line x1="652.2" y1="646.2" x2="908.8" y2="646.2" stroke="#000" stroke-width="2.9" stroke-linecap="butt"/>
<text class="s" transform="translate(598.2 583.3) rotate(-90) scale(1.0 1)" font-size="21" font-weight="bold" text-anchor="middle">Abundance  (intensity)</text>
<text class="s" transform="translate(699.7 672.4) rotate(-45) scale(0.9 1)" font-size="21.4" font-weight="bold" text-anchor="end">14h</text>
<text class="s" transform="translate(784.7 672.4) rotate(-45) scale(0.9 1)" font-size="21.4" font-weight="bold" text-anchor="end">30h</text>
<text class="s" transform="translate(869.9 672.4) rotate(-45) scale(0.9 1)" font-size="21.4" font-weight="bold" text-anchor="end">48h</text>
<line x1="694.8" y1="592.4" x2="694.8" y2="657.6" stroke="#00ff00" stroke-width="5.2" stroke-linecap="butt"/>
<line x1="691.2" y1="592.4" x2="698.4" y2="592.4" stroke="#00ff00" stroke-width="5.2" stroke-linecap="round"/>
<line x1="691.2" y1="657.6" x2="698.4" y2="657.6" stroke="#00ff00" stroke-width="5.2" stroke-linecap="round"/>
<line x1="779.8" y1="596.8" x2="779.8" y2="662.8" stroke="#00ff00" stroke-width="5.2" stroke-linecap="butt"/>
<line x1="776.2" y1="596.8" x2="783.4" y2="596.8" stroke="#00ff00" stroke-width="5.2" stroke-linecap="round"/>
<line x1="776.2" y1="662.8" x2="783.4" y2="662.8" stroke="#00ff00" stroke-width="5.2" stroke-linecap="round"/>
<line x1="865" y1="626.2" x2="865" y2="664.9" stroke="#00ff00" stroke-width="5.2" stroke-linecap="butt"/>
<line x1="861.4" y1="626.2" x2="868.6" y2="626.2" stroke="#00ff00" stroke-width="5.2" stroke-linecap="round"/>
<line x1="861.4" y1="664.9" x2="868.6" y2="664.9" stroke="#00ff00" stroke-width="5.2" stroke-linecap="round"/>
<path d="M694.8 624.8L779.8 630L865 646" fill="none" stroke="#00ff00" stroke-width="2.5" stroke-linejoin="round"/>
<circle cx="694.8" cy="624.8" r="3.4" fill="#00ff00"/>
<circle cx="779.8" cy="630" r="3.4" fill="#00ff00"/>
<circle cx="865" cy="646" r="3.4" fill="#00ff00"/>
<line x1="694.8" y1="502.8" x2="694.8" y2="565.2" stroke="#ff0000" stroke-width="5.2" stroke-linecap="butt"/>
<line x1="691.2" y1="502.8" x2="698.4" y2="502.8" stroke="#ff0000" stroke-width="5.2" stroke-linecap="round"/>
<line x1="691.2" y1="565.2" x2="698.4" y2="565.2" stroke="#ff0000" stroke-width="5.2" stroke-linecap="round"/>
<line x1="779.8" y1="535.2" x2="779.8" y2="576.4" stroke="#ff0000" stroke-width="5.2" stroke-linecap="butt"/>
<line x1="776.2" y1="535.2" x2="783.4" y2="535.2" stroke="#ff0000" stroke-width="5.2" stroke-linecap="round"/>
<line x1="776.2" y1="576.4" x2="783.4" y2="576.4" stroke="#ff0000" stroke-width="5.2" stroke-linecap="round"/>
<line x1="865" y1="511.6" x2="865" y2="587.2" stroke="#ff0000" stroke-width="5.2" stroke-linecap="butt"/>
<line x1="861.4" y1="511.6" x2="868.6" y2="511.6" stroke="#ff0000" stroke-width="5.2" stroke-linecap="round"/>
<line x1="861.4" y1="587.2" x2="868.6" y2="587.2" stroke="#ff0000" stroke-width="5.2" stroke-linecap="round"/>
<path d="M694.8 534.4L779.8 555.6L865 549.6" fill="none" stroke="#ff0000" stroke-width="2.5" stroke-linejoin="round"/>
<rect x="691.2" y="530.8" width="7.2" height="7.2" fill="#ff0000"/>
<rect x="776.2" y="552" width="7.2" height="7.2" fill="#ff0000"/>
<rect x="861.4" y="546" width="7.2" height="7.2" fill="#ff0000"/>
<line x1="933.2" y1="472.1" x2="961.2" y2="472.1" stroke="#00ff00" stroke-width="2.7" stroke-linecap="butt"/>
<circle cx="947.2" cy="472.1" r="4" fill="#00ff00"/>
<text class="s" transform="translate(975.9 479.3) scale(0.935 1)" font-size="22.4" font-weight="normal" text-anchor="start">Con+70%</text>
<line x1="933.2" y1="501.6" x2="961.2" y2="501.6" stroke="#ff0000" stroke-width="2.7" stroke-linecap="butt"/>
<rect x="943.2" y="497.6" width="8" height="8" fill="#ff0000"/>
<text class="s" transform="translate(975.9 508.9) scale(0.935 1)" font-size="22.4" font-weight="normal" text-anchor="start">90%</text>
<line x1="1195.9" y1="473.4" x2="1195.9" y2="557.6" stroke="#000" stroke-width="2" stroke-linecap="butt"/>
<line x1="1195.9" y1="568.6" x2="1195.9" y2="652.7" stroke="#000" stroke-width="2" stroke-linecap="butt"/>
<line x1="1189.9" y1="474.4" x2="1195.9" y2="474.4" stroke="#000" stroke-width="2" stroke-linecap="butt"/>
<text class="s" x="1186.3" y="479" font-size="12.9" font-weight="bold" text-anchor="end">80</text>
<line x1="1189.9" y1="502.2" x2="1195.9" y2="502.2" stroke="#000" stroke-width="2" stroke-linecap="butt"/>
<text class="s" x="1186.3" y="506.8" font-size="12.9" font-weight="bold" text-anchor="end">75</text>
<line x1="1189.9" y1="528.9" x2="1195.9" y2="528.9" stroke="#000" stroke-width="2" stroke-linecap="butt"/>
<text class="s" x="1186.3" y="533.5" font-size="12.9" font-weight="bold" text-anchor="end">70</text>
<line x1="1189.9" y1="556.6" x2="1199.7" y2="556.6" stroke="#000" stroke-width="2" stroke-linecap="butt"/>
<text class="s" x="1186.3" y="561.2" font-size="12.9" font-weight="bold" text-anchor="end">65</text>
<line x1="1189.9" y1="569.6" x2="1199.7" y2="569.6" stroke="#000" stroke-width="2" stroke-linecap="butt"/>
<text class="s" x="1186.3" y="574.2" font-size="12.9" font-weight="bold" text-anchor="end">20</text>
<line x1="1189.9" y1="611.1" x2="1195.9" y2="611.1" stroke="#000" stroke-width="2" stroke-linecap="butt"/>
<text class="s" x="1186.3" y="615.7" font-size="12.9" font-weight="bold" text-anchor="end">10</text>
<line x1="1189.9" y1="651.9" x2="1195.9" y2="651.9" stroke="#000" stroke-width="2" stroke-linecap="butt"/>
<text class="s" x="1186.3" y="656.5" font-size="12.9" font-weight="bold" text-anchor="end">0</text>
<line x1="1194.9" y1="651.7" x2="1462" y2="651.7" stroke="#000" stroke-width="2" stroke-linecap="butt"/>
<line x1="1240.2" y1="651.7" x2="1240.2" y2="657.4" stroke="#000" stroke-width="2" stroke-linecap="butt"/>
<text class="s" transform="translate(1244.2 669.9) rotate(-45)" font-size="13.5" font-weight="bold" text-anchor="end">14h</text>
<line x1="1328.8" y1="651.7" x2="1328.8" y2="657.4" stroke="#000" stroke-width="2" stroke-linecap="butt"/>
<text class="s" transform="translate(1331.8 669.9) rotate(-45)" font-size="13.5" font-weight="bold" text-anchor="end">30h</text>
<line x1="1417.6" y1="651.7" x2="1417.6" y2="657.4" stroke="#000" stroke-width="2" stroke-linecap="butt"/>
<text class="s" transform="translate(1420.2 669.9) rotate(-45)" font-size="13.5" font-weight="bold" text-anchor="end">48h</text>
<text class="s" transform="translate(1156.2 563.4) rotate(-90) scale(0.92 1)" font-size="17" font-weight="bold" text-anchor="middle">Ratio</text>
<text class="s" x="1321" y="712" font-size="16.8" font-weight="bold" text-anchor="middle">Time</text>
<path d="M1240.2 637.2L1328.8 625.2L1417.6 577.3" fill="none" stroke="#84fb84" stroke-width="2" stroke-linejoin="round"/>
<circle cx="1240.2" cy="637.2" r="3.5" fill="#84fb84"/>
<circle cx="1328.8" cy="625.2" r="3.5" fill="#84fb84"/>
<circle cx="1417.6" cy="577.3" r="3.5" fill="#84fb84"/>
<path d="M1240.2 640.8L1328.8 630L1417.6 615.8" fill="none" stroke="#8282fb" stroke-width="2" stroke-linejoin="round"/>
<rect x="1236.7" y="637.3" width="7" height="7" fill="#8282fb"/>
<rect x="1325.3" y="626.5" width="7" height="7" fill="#8282fb"/>
<rect x="1414.1" y="612.3" width="7" height="7" fill="#8282fb"/>
<path d="M1240.2 645.2L1328.8 632L1417.6 627.6" fill="none" stroke="#fb7676" stroke-width="2" stroke-linejoin="round"/>
<path d="M1240.2 641.5L1244.2 648.53L1236.2 648.53Z" fill="#fb7676"/>
<path d="M1328.8 628.3L1332.8 635.33L1324.8 635.33Z" fill="#fb7676"/>
<path d="M1417.6 623.9L1421.6 630.93L1413.6 630.93Z" fill="#fb7676"/>
<path d="M1240.2 646.6L1328.8 646L1417.6 646" fill="none" stroke="#ff9836" stroke-width="2" stroke-linejoin="round"/>
<path d="M1240.2 650.3L1244.2 643.27L1236.2 643.27Z" fill="#ff9836"/>
<path d="M1328.8 649.7L1332.8 642.67L1324.8 642.67Z" fill="#ff9836"/>
<path d="M1417.6 649.7L1421.6 642.67L1413.6 642.67Z" fill="#ff9836"/>
<path d="M1240.2 631L1328.8 629.6L1417.6 496.4" fill="none" stroke="#000" stroke-width="2.5" stroke-linejoin="round"/>
<path d="M1240.2 626.1L1245.1 631L1240.2 635.9L1235.3 631Z" fill="#000"/>
<path d="M1328.8 624.7L1333.7 629.6L1328.8 634.5L1323.9 629.6Z" fill="#000"/>
<path d="M1417.6 491.5L1422.5 496.4L1417.6 501.3L1412.7 496.4Z" fill="#000"/>
<rect x="1355" y="556.4" width="35" height="13.2" fill="#fff"/>
<line x1="1479.4" y1="487.7" x2="1498.7" y2="487.7" stroke="#84fb84" stroke-width="2" stroke-linecap="butt"/>
<circle cx="1489.1" cy="487.7" r="3.5" fill="#84fb84"/>
<text class="s" transform="translate(1509.9 493.7) scale(1.05 1)" font-size="16" font-weight="normal" text-anchor="start">Total bilirubin</text>
<line x1="1479.4" y1="508.2" x2="1498.7" y2="508.2" stroke="#8282fb" stroke-width="2" stroke-linecap="butt"/>
<rect x="1485.6" y="504.7" width="7" height="7" fill="#8282fb"/>
<text class="s" transform="translate(1509.9 514.2) scale(1.05 1)" font-size="16" font-weight="normal" text-anchor="start">AST</text>
<line x1="1479.4" y1="528.6" x2="1498.7" y2="528.6" stroke="#fb7676" stroke-width="2" stroke-linecap="butt"/>
<path d="M1489.1 524.9L1493.1 531.93L1485.1 531.93Z" fill="#fb7676"/>
<text class="s" transform="translate(1509.9 534.6) scale(1.05 1)" font-size="16" font-weight="normal" text-anchor="start">ALT</text>
<line x1="1479.4" y1="548.9" x2="1498.7" y2="548.9" stroke="#ff9836" stroke-width="2" stroke-linecap="butt"/>
<path d="M1489.1 552.6L1493.1 545.57L1485.1 545.57Z" fill="#ff9836"/>
<text class="s" transform="translate(1509.9 554.9) scale(1.05 1)" font-size="16" font-weight="normal" text-anchor="start">PT-INR</text>
<line x1="1479.4" y1="569.2" x2="1498.7" y2="569.2" stroke="#000" stroke-width="2.5" stroke-linecap="butt"/>
<path d="M1489.1 564.3L1494 569.2L1489.1 574.1L1484.2 569.2Z" fill="#000"/>
<text class="s" transform="translate(1509.9 575.2) scale(1.05 1)" font-size="16" font-weight="normal" text-anchor="start">Biomarker panel</text>
</svg>
</body>
</html>
